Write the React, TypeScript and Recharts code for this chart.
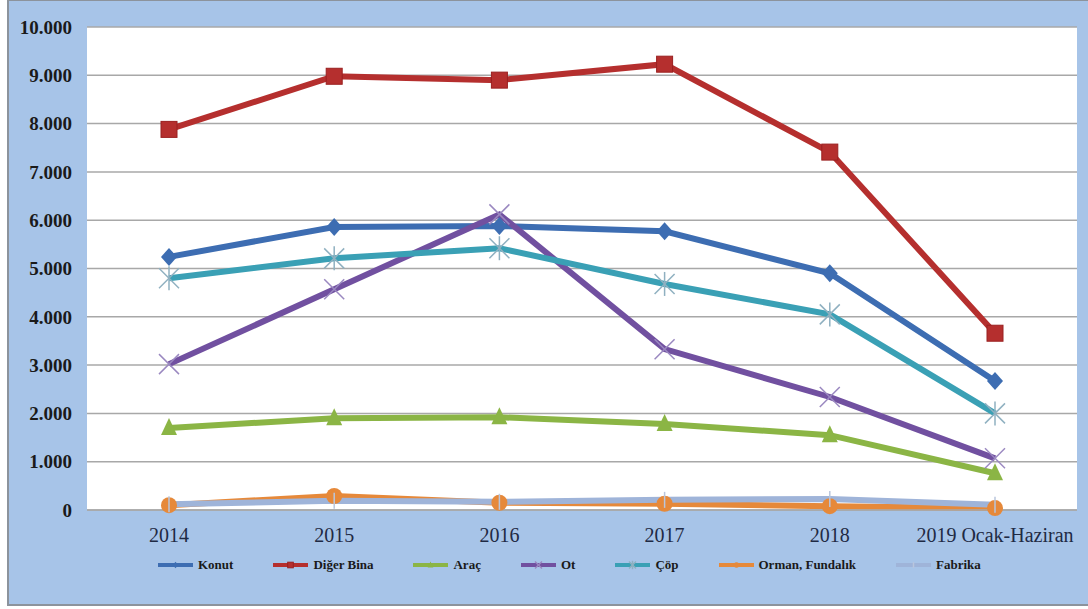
import React from 'react';
import { LineChart, Line, XAxis, YAxis, CartesianGrid } from 'recharts';

// yıllar
const years = ['2014', '2015', '2016', '2017', '2018', '2019 Ocak-Haziran'];

// seriler (yangın sayıları)
const konut = [5240, 5860, 5880, 5770, 4900, 2670];
const digerBina = [7880, 8980, 8900, 9230, 7410, 3660];
const arac = [1700, 1900, 1920, 1780, 1550, 760];
const ot = [3020, 4570, 6120, 3330, 2340, 1070];
const cop = [4800, 5210, 5420, 4680, 4050, 2000];
const orman = [100, 290, 150, 130, 80, 40];
const fabrika = [120, 190, 170, 210, 230, 110];

const yTicks = [0, 1000, 2000, 3000, 4000, 5000, 6000, 7000, 8000, 9000, 10000];

const SERIES = [
  { key: 'konut', name: 'Konut', color: '#3d6db2', shape: 'diamond', values: konut },
  { key: 'digerBina', name: 'Diğer Bina', color: '#b52f2e', shape: 'square', values: digerBina },
  { key: 'arac', name: 'Araç', color: '#8bb545', shape: 'triangle', values: arac },
  { key: 'ot', name: 'Ot', color: '#7150a0', shape: 'x', values: ot },
  { key: 'cop', name: 'Çöp', color: '#3aa0b5', shape: 'star', values: cop },
  { key: 'orman', name: 'Orman, Fundalık', color: '#e6893a', shape: 'circle', values: orman },
  { key: 'fabrika', name: 'Fabrika', color: '#9fb4d9', shape: 'plus', values: fabrika },
];

const data = years.map((y, i) => {
  const row: any = { year: y };
  SERIES.forEach(s => { row[s.key] = s.values[i]; });
  return row;
});

const fmt = (v: number) => v.toLocaleString('de-DE');

const Marker = ({ shape, color, cx, cy, scale = 1 }: any) => {
  const s = scale;
  switch (shape) {
    case 'diamond':
      return <polygon points={`${cx},${cy - 9 * s} ${cx + 8 * s},${cy} ${cx},${cy + 9 * s} ${cx - 8 * s},${cy}`} fill={color} />;
    case 'square':
      return <rect x={cx - 8 * s} y={cy - 8 * s} width={16 * s} height={16 * s} fill={color} stroke="#9a2020" strokeWidth={1} />;
    case 'triangle':
      return <polygon points={`${cx},${cy - 10 * s} ${cx + 8 * s},${cy + 7 * s} ${cx - 8 * s},${cy + 7 * s}`} fill={color} />;
    case 'x':
      return (
        <g stroke="#9a88c0" strokeWidth={1.5}>
          <line x1={cx - 10 * s} y1={cy - 10 * s} x2={cx + 10 * s} y2={cy + 10 * s} />
          <line x1={cx - 10 * s} y1={cy + 10 * s} x2={cx + 10 * s} y2={cy - 10 * s} />
        </g>
      );
    case 'star':
      return (
        <g stroke="#8fb0c0" strokeWidth={1.5}>
          <line x1={cx - 10 * s} y1={cy - 10 * s} x2={cx + 10 * s} y2={cy + 10 * s} />
          <line x1={cx - 10 * s} y1={cy + 10 * s} x2={cx + 10 * s} y2={cy - 10 * s} />
          <line x1={cx} y1={cy - 12 * s} x2={cx} y2={cy + 12 * s} />
        </g>
      );
    case 'circle':
      return <circle cx={cx} cy={cy} r={8 * s} fill={color} />;
    default:
      return (
        <g stroke="#b9c6dd" strokeWidth={1.5}>
          <line x1={cx} y1={cy - 8 * s} x2={cx} y2={cy + 8 * s} />
        </g>
      );
  }
};

const makeDot = (shape: string, color: string) => (props: any) => {
  const { cx, cy, index } = props;
  if (cx == null || cy == null) return <g key={index} />;
  return <Marker key={index} shape={shape} color={color} cx={cx} cy={cy} />;
};

const LegendRow = () => (
  <div
    style={{
      position: 'absolute', left: 158, top: 557, display: 'flex', gap: 40, alignItems: 'center',
      fontFamily: '"Liberation Serif", serif', fontWeight: 700, fontSize: 13, color: '#1a1a1a',
    }}
  >
    {SERIES.map(s => (
      <div key={s.key} style={{ display: 'flex', alignItems: 'center', gap: 5 }}>
        <svg width={35} height={16}>
          <line x1={0} y1={8} x2={35} y2={8} stroke={s.color} strokeWidth={4} />
          <Marker shape={s.shape} color={s.color} cx={17.5} cy={8} scale={0.35} />
        </svg>
        <span>{s.name}</span>
      </div>
    ))}
  </div>
);

export default function App() {
  return (
    <div style={{ position: 'fixed', left: 0, top: 0, width: 1088, height: 609, background: '#fff' }}>
      <div
        style={{
          position: 'absolute', left: 7, top: 0, width: 1081, height: 606, boxSizing: 'border-box',
          background: '#a7c4e8', borderLeft: '2px solid #8c939c', borderBottom: '2px solid #8c939c', borderTop: '1px solid #8c939c',
        }}
      />
      <div style={{ position: 'absolute', left: 0, top: 0 }}>
        <LineChart width={1088} height={609} data={data} margin={{ top: 27, right: 11, bottom: 69, left: 7 }}>
          <CartesianGrid vertical={false} stroke="#a8a8a8" strokeWidth={1.5} fill="#ffffff" />
          <XAxis
            dataKey="year"
            height={30}
            padding={{ left: 82, right: 82 }}
            tickLine={false}
            axisLine={{ stroke: '#a8a8a8', strokeWidth: 1.5 }}
            tickMargin={12}
            interval={0}
            tick={{ fontFamily: '"Liberation Serif", serif', fontSize: 20, fill: '#1f2a44' }}
          />
          <YAxis
            width={80}
            domain={[0, 10000]}
            ticks={yTicks}
            tickFormatter={fmt}
            tickLine={false}
            axisLine={false}
            tickMargin={9}
            interval={0}
            tick={{ fontFamily: '"Liberation Serif", serif', fontSize: 19, fontWeight: 700, fill: '#1a1a1a' }}
          />
          {SERIES.map(s => (
            <Line
              key={s.key}
              type="linear"
              dataKey={s.key}
              name={s.name}
              stroke={s.color}
              strokeWidth={6}
              dot={makeDot(s.shape, s.color)}
              activeDot={false}
              isAnimationActive={false}
            />
          ))}
        </LineChart>
      </div>
      <LegendRow />
    </div>
  );
}
